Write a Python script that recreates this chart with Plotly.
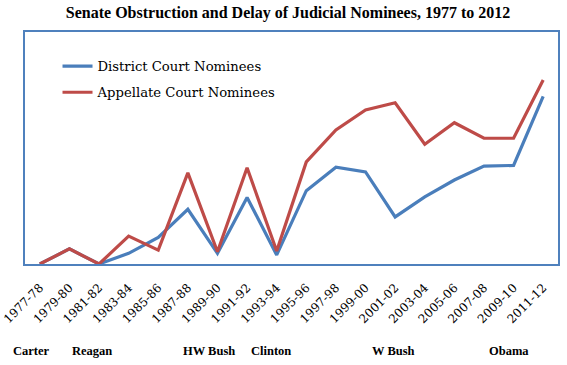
import plotly.graph_objects as go

periods = ["1977-78", "1979-80", "1981-82", "1983-84", "1985-86", "1987-88",
           "1989-90", "1991-92", "1993-94", "1995-96", "1997-98", "1999-00",
           "2001-02", "2003-04", "2005-06", "2007-08", "2009-10", "2011-12"]
district = [0, 6.5, 0, 4.6, 11.5, 23.6, 4.6, 28.7, 3.9, 31.6, 41.7, 39.7,
            20.3, 28.9, 36.2, 42.2, 42.5, 72.3]
appellate = [0, 6.5, 0, 12.0, 6.0, 39.3, 5.3, 41.5, 5.6, 44.0, 57.8, 66.4,
             69.5, 51.6, 60.9, 54.2, 54.2, 79.3]
presidents = ["Carter", "Reagan", "HW Bush", "Clinton", "W Bush", "Obama"]

SERIF = "DejaVu Serif"
TSERIF = "Liberation Serif"
BLUE = "#4A7EBB"
RED = "#BE4B48"

W, H = 567, 365
L, R, T, B = 25, 9, 32, 101
PW = W - L - R

# left pixel edges of the president labels (layout)
pres_left_px = [11, 70, 181, 249, 370, 487]

fig = go.Figure()
fig.add_trace(go.Scatter(x=periods, y=district, mode="lines", name="District Court Nominees",
                         line=dict(color=BLUE, width=3.2), cliponaxis=False, legendgroup="d"))
fig.add_trace(go.Scatter(x=periods, y=appellate, mode="lines", name="Appellate Court Nominees",
                         line=dict(color=RED, width=3.2), cliponaxis=False, legendgroup="a"))

for name, px in zip(presidents, pres_left_px):
    fig.add_annotation(x=(px - L) / PW, y=0, xref="paper", yref="paper", yshift=-87,
                       text=f"<b>{name}</b>", showarrow=False, xanchor="left", yanchor="middle",
                       font=dict(family=TSERIF, size=12.5, color="black"))

fig.update_layout(
    width=W, height=H,
    margin=dict(l=L, r=R, t=T, b=B, pad=0),
    paper_bgcolor="white", plot_bgcolor="white",
    title=dict(text="<b>Senate Obstruction and Delay of Judicial Nominees, 1977 to 2012</b>",
               x=0.508, xanchor="center", y=1 - 12 / H, yanchor="middle",
               font=dict(family=TSERIF, size=16, color="black")),
    showlegend=True,
    legend=dict(x=0.061, y=0.918, xanchor="left", yanchor="top", bgcolor="rgba(0,0,0,0)",
                font=dict(family=SERIF, size=13.2, color="black"),
                traceorder="grouped", tracegroupgap=6),
    xaxis=dict(type="category", range=[-0.5, 17.5], showgrid=False, zeroline=False,
               showline=True, linecolor="#4F81BD", linewidth=2, mirror=True,
               tickangle=-45, ticks="", ticklabelstandoff=10, automargin=False,
               tickfont=dict(family=SERIF, size=12, color="black"), fixedrange=True),
    yaxis=dict(range=[0, 100], showgrid=False, zeroline=False, showticklabels=False,
               showline=True, linecolor="#4F81BD", linewidth=2, mirror=True, ticks="",
               automargin=False, fixedrange=True),
)

fig.write_html("out.html", config={"displayModeBar": False},
               post_script="document.body.style.margin='0';document.body.style.padding='0';")
